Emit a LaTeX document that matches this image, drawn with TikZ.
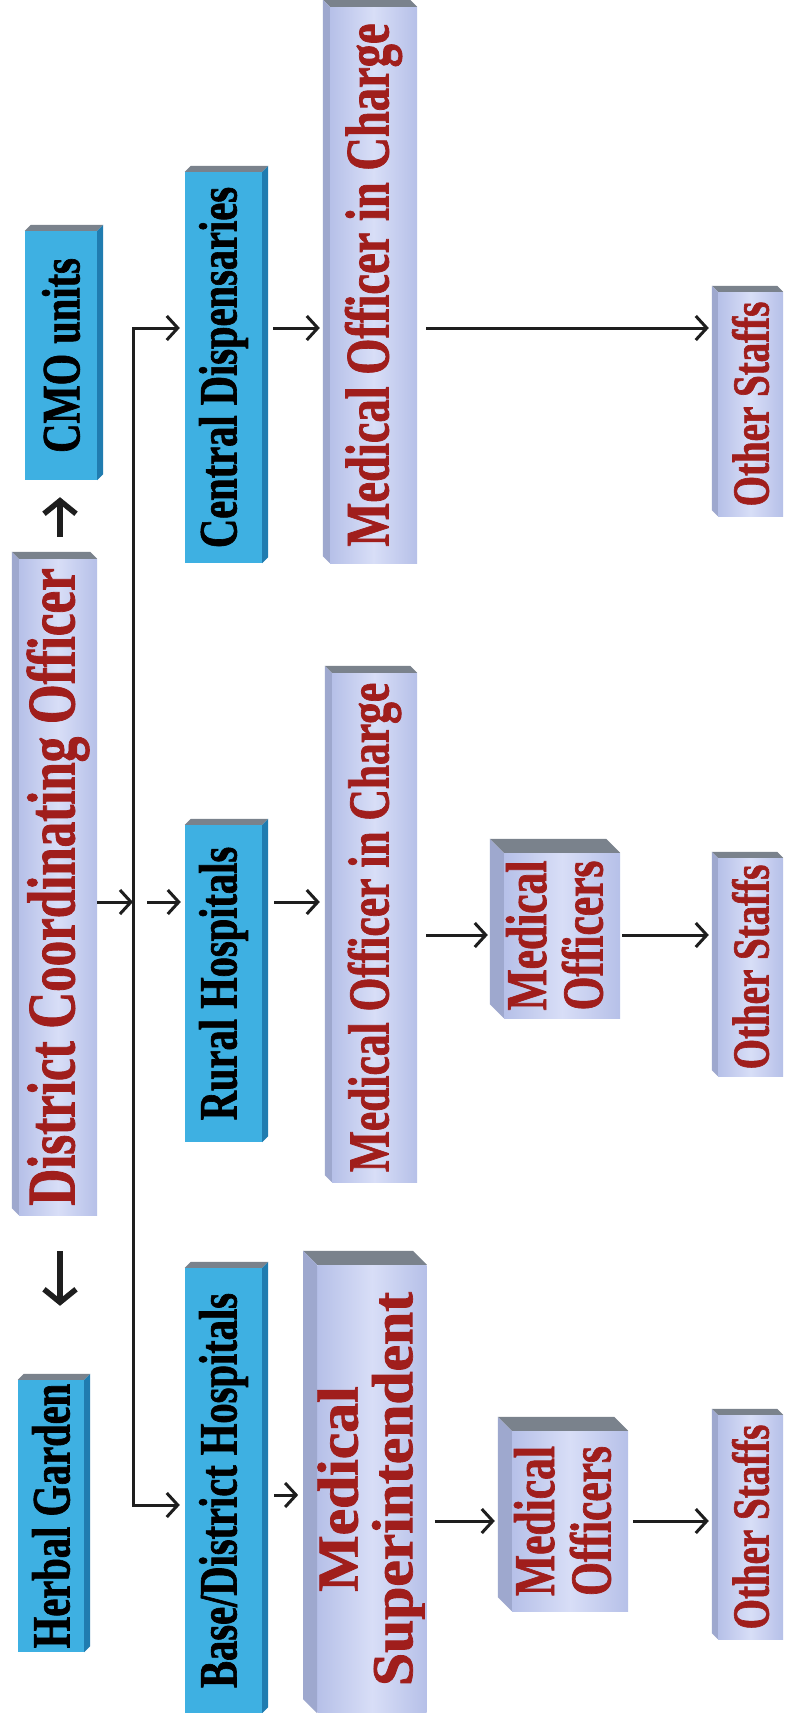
\documentclass[tikz,border=0pt]{standalone}
\usepackage{fontspec}
\setmainfont{Liberation Serif}
\newfontfamily\dfont{Liberation Serif}[FakeStretch=0.75, BoldFeatures={FakeBold=1.2}]
\usetikzlibrary{arrows.meta}
\definecolor{bluefill}{RGB}{62,176,226}
\definecolor{blueside}{RGB}{32,124,176}
\definecolor{topgray}{RGB}{122,130,140}
\definecolor{lavA}{RGB}{182,192,232}
\definecolor{lavB}{RGB}{216,222,247}
\definecolor{lavside}{RGB}{158,168,206}
\definecolor{redtxt}{RGB}{160,30,28}
\definecolor{arrcol}{RGB}{30,30,30}
\tikzset{
  bluebox/.style={fill=bluefill, inner sep=0pt, text=black,
    font={\dfont\bfseries\fontsize{54}{54}\selectfont}},
  lavbox/.style={left color=lavA, right color=lavA, middle color=lavB,
    inner sep=0pt, text=redtxt},
  topface/.style={fill=topgray},
  bside/.style={fill=blueside},
  lside/.style={fill=lavside},
  conn/.style={draw=arrcol, line width=3pt,
    -{Straight Barb[length=11pt,width=24pt,line width=3pt]}},
  conntwo/.style={draw=arrcol, line width=3pt,
    {Straight Barb[length=11pt,width=24pt,line width=3pt]}-{Straight Barb[length=11pt,width=24pt,line width=3pt]}},
  bigconn/.style={draw=arrcol, line width=5.5pt,
    -{Straight Barb[length=13pt,width=32pt,line width=5.5pt]}},
}
% name, x1, y1, x2, y2 (front face), text
\newcommand\BlueBox[6]{%
  \node[bluebox, minimum width={(#4)-(#2)}, minimum height={(#5)-(#3)}]
    (#1) at ({((#2)+(#4))/2},{((#3)+(#5))/2}) {\rotatebox{90}{#6}};
  \fill[topface] (#1.north west) -- ++(6,-6) -- ([shift={(6,-6)}]#1.north east) -- (#1.north east) -- cycle;
  \fill[bside] (#1.north east) -- ++(6,-6) -- ([shift={(6,-6)}]#1.south east) -- (#1.south east) -- cycle;
}
% name, x1, y1, x2, y2 (front face), depth, font size, text
\newcommand\LavBox[8]{%
  \node[lavbox, minimum width={(#4)-(#2)}, minimum height={(#5)-(#3)},
    font={\dfont\bfseries\fontsize{#7}{#7}\selectfont}]
    (#1) at ({((#2)+(#4))/2},{((#3)+(#5))/2}) {\rotatebox{90}{#8}};
  \fill[topface] (#1.north west) -- ++(-#6,-#6) -- ([shift={(-#6,-#6)}]#1.north east) -- (#1.north east) -- cycle;
  \fill[lside] (#1.north west) -- ++(-#6,-#6) -- ([shift={(-#6,-#6)}]#1.south west) -- (#1.south west) -- cycle;
}
\newcommand\TwoLines[2]{\begin{tabular}{@{}c@{}}#1\\#2\end{tabular}}
\begin{document}
\begin{tikzpicture}[x=1pt, y=-1pt]
  \fill[white] (0,0) rectangle (791,1713);
  \useasboundingbox (0,0) rectangle (791,1713);

  % column 1
  \BlueBox{cmo}{25}{231}{97}{480}{CMO units}
  \LavBox{dco}{19}{559}{97}{1215}{7}{68}{District Coordinating Officer}
  \BlueBox{herb}{18}{1380}{84}{1652}{Herbal Garden}

  % column 2
  \BlueBox{cd}{185}{172}{262}{563}{Central Dispensaries}
  \BlueBox{rh}{185}{825}{262}{1142}{Rural Hospitals}
  \BlueBox{base}{185}{1268}{262}{1713}{Base/District Hospitals}

  % column 3
  \LavBox{moica}{330}{7}{417}{563}{7}{62}{Medical Officer in Charge}
  \LavBox{moicb}{332}{673}{417}{1182}{7}{58}{Medical Officer in Charge}
  \LavBox{ms}{323}{1265}{421}{1713}{14}{58}{\fontsize{58}{48}\selectfont\scalebox{1.37}[1]{\TwoLines{Medical}{Superintendent}}}

  % column 4
  \LavBox{mob}{504}{853}{620}{1018}{14}{58}{\fontsize{58}{52}\selectfont\TwoLines{Medical}{Officers}}
  \LavBox{moc}{512}{1431}{628}{1611}{14}{58}{\fontsize{58}{52}\selectfont\TwoLines{Medical}{Officers}}

  % column 5
  \LavBox{osa}{718}{292}{783}{516}{6}{52}{Other Staffs}
  \LavBox{osb}{718}{858}{783}{1076}{6}{52}{Other Staffs}
  \LavBox{osc}{718}{1415}{783}{1639}{6}{52}{Other Staffs}

  % helper coordinates
  \coordinate (trunk) at (133,0);
  \coordinate (ax) at (60,0);
  \coordinate (ra) at (0,328);
  \coordinate (rb) at (0,902);
  \coordinate (rbb) at (0,935);
  \coordinate (rc) at (0,1505);
  \coordinate (rcb) at (0,1495);
  \coordinate (rcc) at (0,1521);

  % connectors
  \draw[bigconn] ([yshift=22]dco.north -| ax) -- ([yshift=-17]cmo.south -| ax);
  \draw[bigconn] ([yshift=-36]dco.south -| ax) -- ([yshift=74]herb.north -| ax);

  \draw[conn] (dco.east |- rb) -- (trunk |- rb);
  \draw[conntwo] ([xshift=-5]cd.west |- ra) -- (trunk |- ra) -- (trunk |- rc) -- ([xshift=-5]base.west |- rc);
  \draw[conn] ([xshift=14]trunk |- rb) -- ([xshift=-4]rh.west |- rb);

  \draw[conn] ([xshift=11]cd.east |- ra) -- ([xshift=-10]moica.west |- ra);
  \draw[conn] ([xshift=9]moica.east |- ra) -- ([xshift=-9]osa.west |- ra);

  \draw[conn] ([xshift=12]rh.east |- rb) -- ([xshift=-12]moicb.west |- rb);
  \draw[conn] ([xshift=9]moicb.east |- rbb) -- ([xshift=-16]mob.west |- rbb);
  \draw[conn] ([xshift=2]mob.east |- rbb) -- ([xshift=-9]osb.west |- rbb);

  \draw[conn] ([xshift=12]base.east |- rcb) -- ([xshift=-19]ms.west |- rcb);
  \draw[conn] ([xshift=8]ms.east |- rcc) -- ([xshift=-17]moc.west |- rcc);
  \draw[conn] ([xshift=5]moc.east |- rcc) -- ([xshift=-9]osc.west |- rcc);
\end{tikzpicture}
\end{document}
